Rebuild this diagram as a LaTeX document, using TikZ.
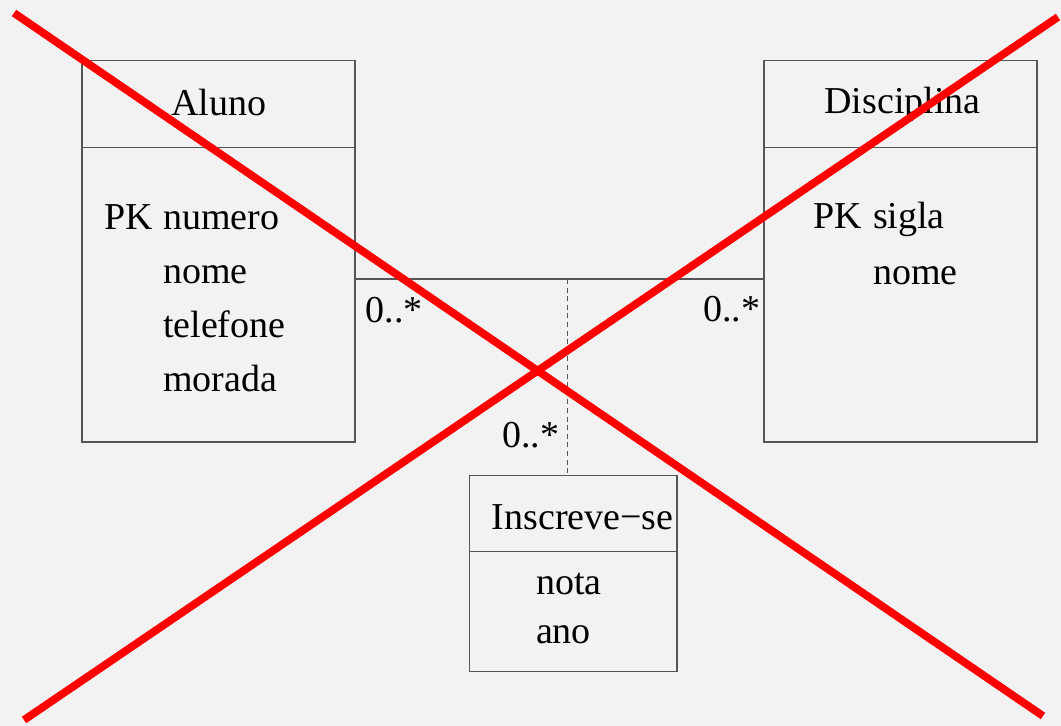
\documentclass[tikz,border=0pt]{standalone}
\usepackage{fontspec}
\setmainfont{Liberation Serif}
\definecolor{bg}{HTML}{F2F2F2}
\definecolor{edge}{HTML}{555555}
\begin{document}
\begin{tikzpicture}[x=0.5pt,y=-0.5pt,
  font=\fontsize{19}{23}\selectfont,
  box/.style={draw=edge,line width=0.6pt,rectangle,inner sep=0pt,outer sep=0pt,anchor=north west},
  txt/.style={inner sep=0pt,outer sep=0pt,anchor=base west},
  assoc/.style={draw=edge,line width=0.6pt},
  dashline/.style={draw=edge,line width=0.6pt,dash pattern=on 2.5pt off 1.8pt},
  cross/.style={draw=red,line width=3.9pt}]
\fill[bg] (0,0) rectangle (1061,726);
\useasboundingbox (0,0) rectangle (1061,726);
% Aluno
\node[box,minimum width=136.5pt,minimum height=43.5pt] (alunohead) at (82,60.7) {};
\node[box,minimum width=136.5pt,minimum height=147.2pt] (alunobody) at (82,147.7) {};
\node[inner sep=0pt,anchor=base] (alunoname) at (218.5,116) {Aluno};
\node[txt] (apk) at (104,230) {PK};
\node[txt] (a1) at (163,230) {numero};
\node[txt] (a2) at (163,284) {nome};
\node[txt] (a3) at (163,338) {telefone};
\node[txt] (a4) at (163,392) {morada};
% Disciplina
\node[box,minimum width=136.5pt,minimum height=43.5pt] (dischead) at (764,60.7) {};
\node[box,minimum width=136.5pt,minimum height=147.2pt] (discbody) at (764,147.7) {};
\node[inner sep=0pt,anchor=base] (discname) at (902.5,114) {Disciplina};
\node[txt] (dpk) at (813,229) {PK};
\node[txt] (d1) at (873,229) {sigla};
\node[txt] (d2) at (873,285) {nome};
% Inscreve-se
\node[box,minimum width=103.85pt,minimum height=38.2pt] (inschead) at (469.3,475.3) {};
\node[box,minimum width=103.85pt,minimum height=60pt] (inscbody) at (469.3,551.7) {};
\node[txt] (inscname) at (491.7,530) {Inscreve−se};
\node[txt] (i1) at (536,595) {nota};
\node[txt] (i2) at (536,644) {ano};
% association
\coordinate (mid) at (567.7,279);
\draw[assoc] (alunobody.east |- mid) -- (discbody.west |- mid);
\draw[dashline] (mid) -- (mid |- inschead.north);
\node[txt] (m1) at (365.5,322.5) {0..*};
\node[txt] (m2) at (703.3,322) {0..*};
\node[txt] (m3) at (502.3,448) {0..*};
% cross
\coordinate (c1) at (14,13);
\coordinate (c2) at (1043,716);
\coordinate (c3) at (24,720);
\coordinate (c4) at (1058,17);
\draw[cross] (c1) -- (c2);
\draw[cross] (c3) -- (c4);
\end{tikzpicture}
\end{document}
